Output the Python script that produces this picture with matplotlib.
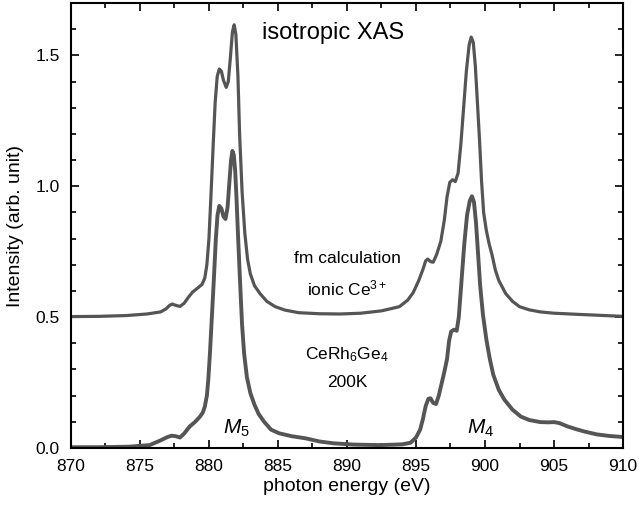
import matplotlib
matplotlib.use('Agg')
import matplotlib.pyplot as plt
from matplotlib.ticker import MultipleLocator

plt.rcParams['font.family'] = ['Liberation Sans', 'DejaVu Sans']
plt.rcParams['mathtext.fontset'] = 'custom'
plt.rcParams['mathtext.rm'] = 'Liberation Sans'
plt.rcParams['mathtext.it'] = 'Liberation Sans:italic'

# --- fm calculation, ionic Ce3+ (offset by 0.5) ---
calc_e = [870.0, 872.0, 874.0, 875.5, 876.5, 876.9, 877.15, 877.35, 877.6, 877.9,
          878.2, 878.5, 878.8, 879.2, 879.5, 879.7, 879.85, 880.0, 880.15, 880.3,
          880.45, 880.6, 880.75, 880.9, 881.05, 881.25, 881.4, 881.55, 881.7, 881.83,
          881.95, 882.1, 882.22, 882.4, 882.6, 882.8, 883.0, 883.3, 883.7, 884.2,
          884.8, 885.5, 886.5, 888.0, 889.5, 891.0, 892.5, 893.8, 894.4, 894.8,
          895.2, 895.5, 895.7, 895.85, 896.05, 896.25, 896.5, 896.8, 897.05, 897.25,
          897.45, 897.65, 897.85, 898.05, 898.25, 898.45, 898.65, 898.85, 899.0, 899.15,
          899.3, 899.45, 899.6, 899.75, 899.9, 900.1, 900.3, 900.5, 900.75, 901.0,
          901.5, 902.0, 902.5, 903.2, 904.0, 905.0, 907.0, 910.0]
calc_i = [0.502, 0.503, 0.506, 0.512, 0.520, 0.532, 0.545, 0.550, 0.545, 0.541,
          0.553, 0.575, 0.595, 0.612, 0.625, 0.650, 0.700, 0.800, 0.970, 1.150,
          1.320, 1.420, 1.448, 1.440, 1.405, 1.378, 1.400, 1.490, 1.590, 1.617,
          1.580, 1.420, 1.200, 0.980, 0.820, 0.720, 0.665, 0.620, 0.590, 0.560,
          0.540, 0.527, 0.517, 0.513, 0.512, 0.515, 0.524, 0.540, 0.565, 0.594,
          0.640, 0.682, 0.715, 0.722, 0.712, 0.710, 0.740, 0.790, 0.870, 0.960,
          1.015, 1.025, 1.018, 1.050, 1.160, 1.300, 1.440, 1.540, 1.570, 1.550,
          1.460, 1.320, 1.180, 1.020, 0.900, 0.830, 0.780, 0.740, 0.680, 0.640,
          0.590, 0.560, 0.540, 0.528, 0.520, 0.515, 0.510, 0.503]

# --- CeRh6Ge4, 200 K ---
exp_e = [870.0, 872.0, 874.2, 875.7, 876.45, 877.0, 877.3, 877.6, 877.9, 878.2,
         878.6, 879.0, 879.35, 879.55, 879.7, 879.85, 879.95, 880.07, 880.2, 880.35,
         880.5, 880.62, 880.75, 880.9, 881.05, 881.2, 881.35, 881.5, 881.6, 881.7,
         881.8, 881.9, 882.0, 882.1, 882.25, 882.4, 882.55, 882.75, 883.0, 883.3,
         883.6, 884.0, 884.5, 885.1, 886.0, 887.0, 888.0, 889.0, 890.5, 892.4,
         894.0, 894.6, 895.0, 895.3, 895.5, 895.7, 895.9, 896.05, 896.25, 896.45,
         896.65, 896.85, 897.05, 897.25, 897.4, 897.55, 897.75, 897.95, 898.1, 898.3,
         898.5, 898.7, 898.9, 899.05, 899.2, 899.35, 899.5, 899.65, 899.85, 900.1,
         900.35, 900.6, 901.0, 901.4, 902.0, 902.6, 903.2, 904.0, 904.6, 905.0,
         905.4, 906.0, 906.6, 907.2, 908.1, 909.0, 910.0]
exp_i = [0.003, 0.003, 0.005, 0.011, 0.028, 0.042, 0.047, 0.045, 0.040, 0.055,
         0.082, 0.100, 0.120, 0.135, 0.158, 0.200, 0.260, 0.360, 0.490, 0.640,
         0.800, 0.890, 0.925, 0.915, 0.885, 0.875, 0.920, 1.030, 1.100, 1.135,
         1.120, 1.060, 0.950, 0.820, 0.640, 0.470, 0.360, 0.270, 0.210, 0.165,
         0.130, 0.100, 0.070, 0.056, 0.045, 0.037, 0.025, 0.018, 0.013, 0.011,
         0.014, 0.020, 0.040, 0.070, 0.110, 0.160, 0.188, 0.190, 0.172, 0.168,
         0.200, 0.245, 0.290, 0.340, 0.410, 0.445, 0.452, 0.448, 0.500, 0.640,
         0.780, 0.890, 0.945, 0.962, 0.940, 0.860, 0.740, 0.620, 0.510, 0.414,
         0.340, 0.280, 0.222, 0.185, 0.146, 0.120, 0.107, 0.099, 0.098, 0.099,
         0.095, 0.082, 0.072, 0.063, 0.052, 0.046, 0.042]

grey = '#555555'

fig = plt.figure(figsize=(6.39, 5.12), dpi=100)
ax = fig.add_axes([0.111, 0.125, 0.864, 0.869])

ax.plot(calc_e, calc_i, color=grey, lw=2.3, solid_joinstyle='round', solid_capstyle='round')
ax.plot(exp_e, exp_i, color=grey, lw=2.8, solid_joinstyle='round', solid_capstyle='round')

ax.set_xlim(870, 910)
ax.set_ylim(0, 1.7)
ax.xaxis.set_major_locator(MultipleLocator(5))
ax.xaxis.set_minor_locator(MultipleLocator(2.5))
ax.yaxis.set_major_locator(MultipleLocator(0.5))
ax.yaxis.set_minor_locator(MultipleLocator(0.1))
ax.tick_params(which='both', direction='in', top=True, right=True, width=1.2)
ax.tick_params(which='major', length=6, labelsize=12.5)
ax.tick_params(axis='x', which='major', pad=8)
ax.tick_params(axis='y', which='major', pad=8)
ax.tick_params(which='minor', length=3.5)
for s in ax.spines.values():
    s.set_linewidth(1.5)

ax.set_xlabel('photon energy (eV)', fontsize=14, labelpad=3)
ax.set_ylabel('Intensity (arb. unit)', fontsize=14, labelpad=8)

ax.text(889.0, 1.585, 'isotropic XAS', fontsize=17, ha='center', va='center')
ax.text(890.0, 0.725, 'fm calculation', fontsize=12.5, ha='center', va='center')
ax.text(890.0, 0.61, 'ionic Ce$^{3+}$', fontsize=12.5, ha='center', va='center')
ax.text(890.0, 0.355, 'CeRh$_6$Ge$_4$', fontsize=12.5, ha='center', va='center')
ax.text(890.0, 0.25, '200K', fontsize=12.5, ha='center', va='center')
ax.text(882.0, 0.075, r'$\mathit{M_5}$', fontsize=15, ha='center', va='center')
ax.text(899.7, 0.075, r'$\mathit{M_4}$', fontsize=15, ha='center', va='center')

fig.savefig('out.png', dpi=100)
